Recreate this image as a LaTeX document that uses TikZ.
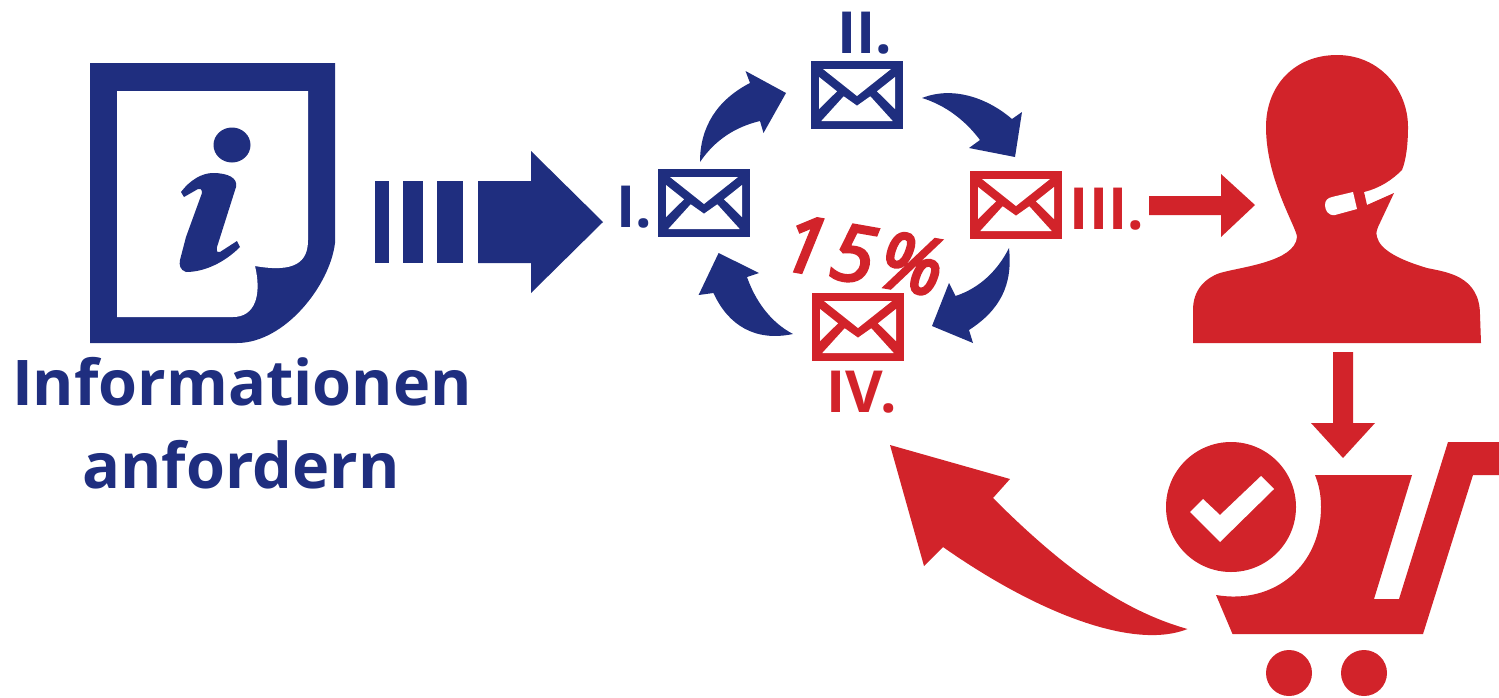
\documentclass[tikz,border=0pt]{standalone}
\usepackage{fontspec}
\setmainfont{Open Sans}
\definecolor{navy}{RGB}{31,46,127}
\definecolor{signal}{RGB}{210,35,42}
\begin{document}
\begin{tikzpicture}[
    x=0.5pt, y=-0.5pt,
    shape/.style={fill=#1, draw=none},
    tag/.style={text=#1, anchor=base, inner sep=0pt, font=\fontsize{29}{35}\selectfont\bfseries},
    heading/.style={tag=navy, font=\fontsize{31.5}{38}\selectfont\bfseries},
    pics/mailbox/.style={code={
      \fill[#1] (-46,-34) rectangle (46,34);
      \fill[white] (-34,-26) -- (34,-26) -- (0,1) -- cycle;
      \fill[white] (-38,-18) -- (-20,-3.7) -- (-38,14) -- cycle;
      \fill[white] (38,-18) -- (20,-3.7) -- (38,14) -- cycle;
      \fill[white] (-35.7,26) -- (35.7,26) -- (13.3,1.3) -- (0,10.7) -- (-13.3,1.3) -- cycle;
    }}
  ]
    \useasboundingbox (0,0) rectangle (1499,697);
    % info sheet
    \fill[shape=navy] (90,63) -- (335,63) -- (335,243) .. controls (330,285) and (285,343) .. (237,343) -- (90,343) -- cycle;
    \fill[white] (117,91) -- (308,91) -- (308,240) .. controls (308,262) and (295,273) .. (255,266)
      .. controls (262,295) and (255,317) .. (233,317) -- (117,317) -- cycle;
    \fill[shape=navy] (232,145) ellipse [x radius=18.5, y radius=17.5];
    \fill[shape=navy] (181,192) .. controls (190,180) and (202,173) .. (213,173) .. controls (228,173) and (238,178) .. (236,187)
      -- (217,247) .. controls (216,252) and (218,253) .. (220,252) -- (237,241) -- (240,247)
      .. controls (225,262) and (205,272) .. (186,272) .. controls (180,270) and (179,265) .. (180,260)
      -- (186,237) -- (202,193) .. controls (202,189) and (200,188) .. (198,189) -- (184,197) -- cycle;
    % bars and block arrow
    \fill[shape=navy] (375,181) rectangle (389,263);
    \fill[shape=navy] (403,181) rectangle (423,263);
    \fill[shape=navy] (437,181) rectangle (463,263);
    \fill[shape=navy] (478,181) -- (531,181) -- (531,151) -- (603,222) -- (531,293) -- (531,263) -- (478,263) -- cycle;
    \node[heading] (title) at (242,405) {Informationen};
    \node[heading] (titleb) at (241,488) {anfordern};
    % mail ring
    \pic at (704,203) {mailbox=navy};
    \pic at (857,95) {mailbox=navy};
    \pic at (1016,205) {mailbox=signal};
    \pic at (858,327) {mailbox=signal};
    \node[tag=navy] (labone) at (634,227) {I.};
    \node[tag=navy] (labtwo) at (865,53) {II.};
    \node[tag=signal] (labthree) at (1107,229) {III.};
    \node[tag=signal] (labfour) at (862,412) {IV.};
    \node[text=signal, rotate=-10, inner sep=0pt, font=\fontsize{39}{44}\selectfont\itshape\addfontfeature{FakeBold=4,LetterSpace=8}] (rate) at (863,255) {15\%};
    % ring arrows
    \fill[shape=navy] (700,162) .. controls (700,127) and (717,100) .. (750,83) -- (745.5,71) -- (786,93) -- (763.5,133) -- (760,121)
      .. controls (735,127) and (715,140) .. (700,162) -- cycle;
    \fill[shape=navy] (922,98) .. controls (955,85) and (990,100) .. (1012,119) -- (1022,112) -- (1015,157) -- (969,148) -- (980,140)
      .. controls (965,120) and (945,105) .. (922,98) -- cycle;
    \fill[shape=navy] (1009,248) .. controls (1013,285) and (1000,310) .. (969,330) -- (973,343) -- (932,326) -- (949,283) -- (955.5,296)
      .. controls (980,288) and (998,270) .. (1009,248) -- cycle;
    \fill[shape=navy] (793,334) .. controls (755,342) and (728,325) .. (713.5,293) -- (698.6,295) -- (718.6,253) -- (759,273) -- (747,277)
      .. controls (755,300) and (770,322) .. (793,334) -- cycle;
    % agent
    \fill[shape=signal] (1149,196) -- (1221,196) -- (1221,174) -- (1255,205) -- (1221,237) -- (1221,215) -- (1149,215) -- cycle;
    \fill[shape=signal] (1193,343) -- (1193,310) .. controls (1193,290) and (1205,278) .. (1220,273)
      .. controls (1240,267) and (1295,262) .. (1297,237) .. controls (1297,228) and (1266,180) .. (1266,127)
      .. controls (1266,85) and (1295,55) .. (1337,55) .. controls (1380,55) and (1408,90) .. (1408,127)
      .. controls (1408,145) and (1406,160) .. (1402,170) .. controls (1392,180) and (1380,188) .. (1364,192)
      -- (1367,205) -- (1394,193) -- (1378,227) .. controls (1376,232) and (1376,235) .. (1377,237)
      .. controls (1380,250) and (1400,260) .. (1427,268) .. controls (1445,272) and (1480,275) .. (1480,315) -- (1481,343) -- cycle;
    \fill[white] (1353,192) -- (1357,209) -- (1335,215) .. controls (1328,216) and (1325,210) .. (1325,205)
      .. controls (1325,200) and (1328,198) .. (1332,197) -- cycle;
    % cart
    \fill[shape=signal] (1333,352) -- (1353,352) -- (1353,423) -- (1375,423) -- (1343,458) -- (1311,423) -- (1333,423) -- cycle;
    \fill[shape=signal] (1231,507) ellipse [x radius=65, y radius=65];
    \fill[white] (1190,512) -- (1203,499) -- (1220,515) -- (1261,476) -- (1274,489) -- (1220,542) -- cycle;
    \fill[shape=signal] (1315,475) -- (1412,475) -- (1374,599) -- (1399,599) -- (1448,442) -- (1500,442) -- (1499,475) -- (1473,475)
      -- (1423,634) -- (1232.5,634) -- (1216,595) .. controls (1275,605) and (1321,565) .. (1321,507) .. controls (1321,495) and (1319,485) .. (1315,475) -- cycle;
    \fill[shape=signal] (1289,673) circle [radius=23];
    \fill[shape=signal] (1364,673) circle [radius=23];
    % back arrow
    \fill[shape=signal] (1187.5,629) .. controls (1135,650) and (1040,615) .. (943,547) -- (924,566) -- (890,445) -- (1010,479) -- (993,498)
      .. controls (1060,565) and (1120,610) .. (1187.5,629) -- cycle;
\end{tikzpicture}
\end{document}
